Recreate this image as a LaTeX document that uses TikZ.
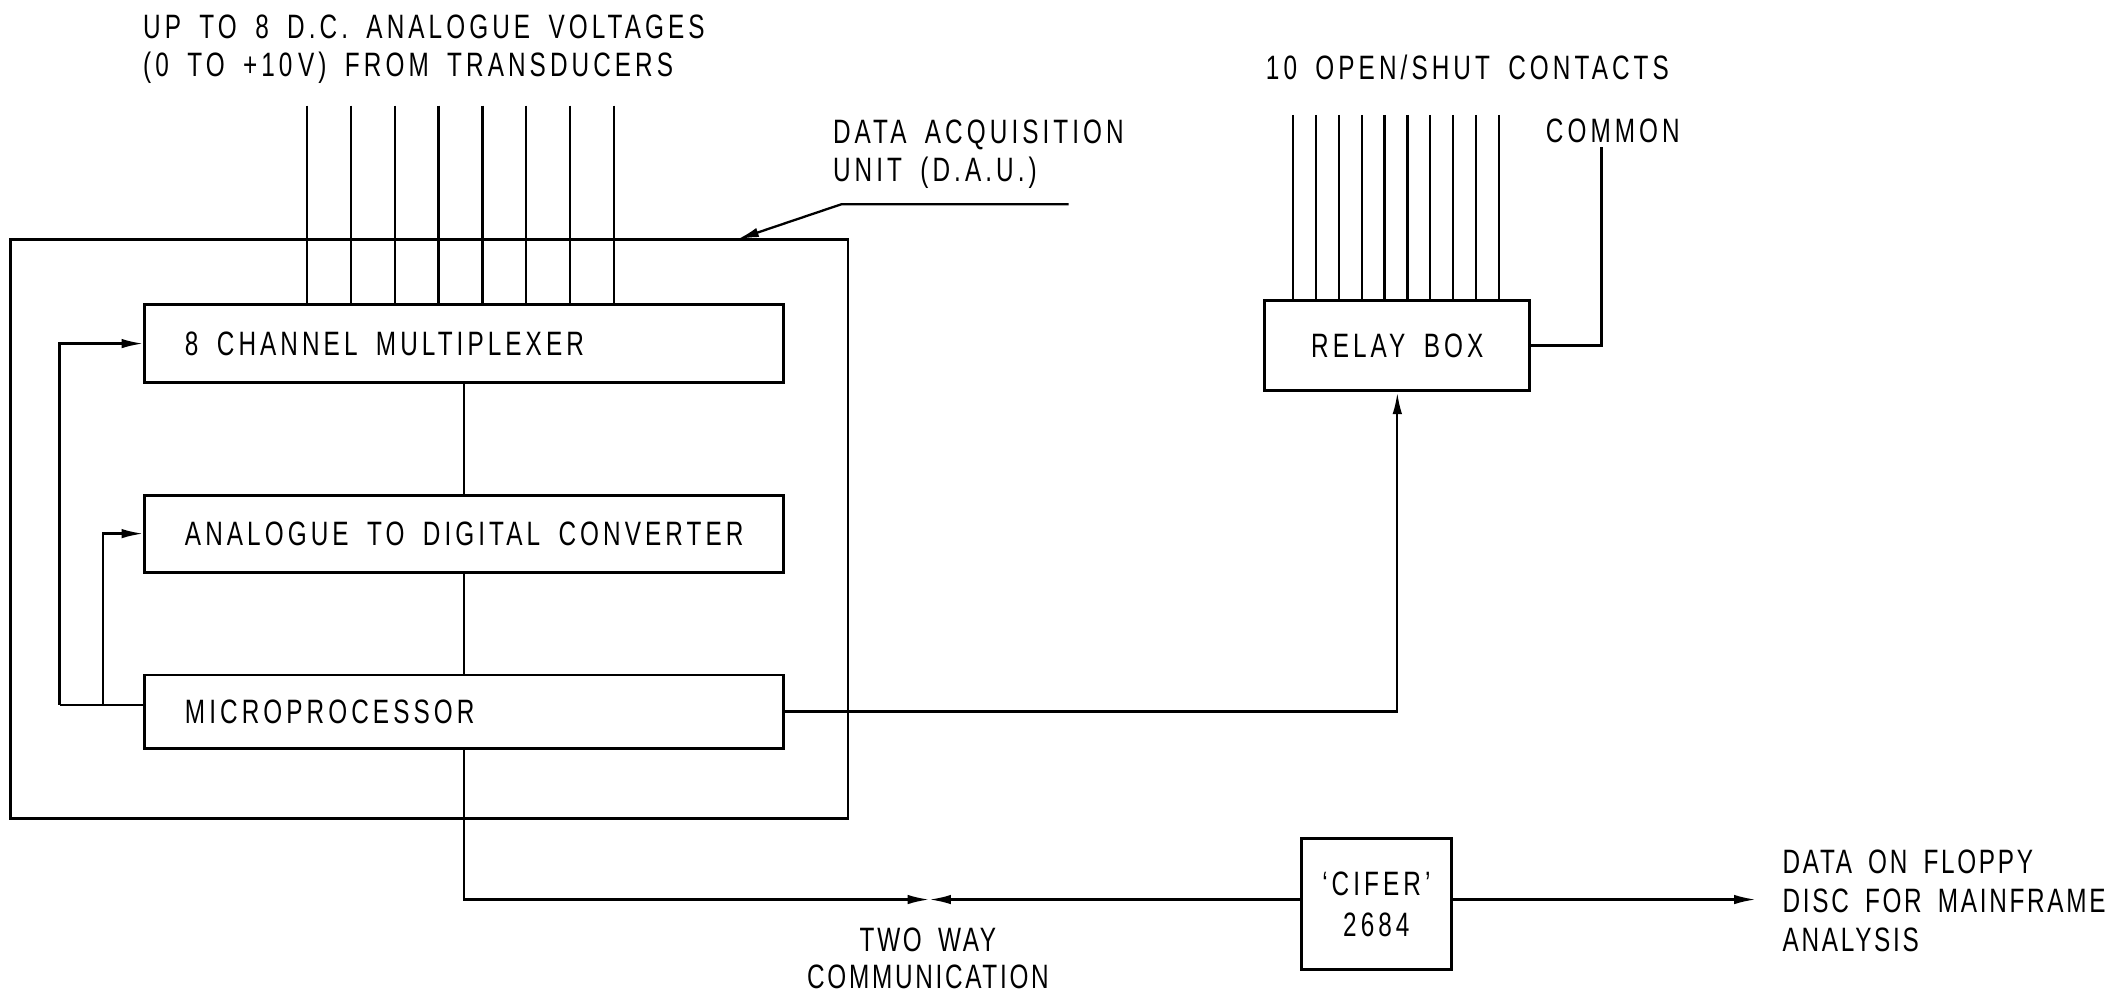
\documentclass[tikz,border=0pt]{standalone}
\usepackage{fontspec}
\setmainfont{Liberation Sans}[FakeStretch=0.72, LetterSpace=12, WordSpace=1.7]
\newfontfamily\tightlettering{Liberation Sans}[FakeStretch=0.72, LetterSpace=8, WordSpace=1.7]
\usetikzlibrary{arrows.meta}
\begin{document}
\begin{tikzpicture}[x=1pt, y=1pt, line width=1.7pt,
  every node/.style={font=\fontsize{25}{29}\selectfont, inner sep=0pt},
  every label/.style={font=\fontsize{25}{29}\selectfont, inner sep=0pt},
  tight/.style={font=\fontsize{25}{29}\tightlettering},
  blk/.style={draw, line width=2.2pt, rectangle},
  unitblk/.style={blk, minimum width=472pt, label={[anchor=west, xshift=30pt]west:#1}},
  arr/.style={-{Latex[length=16pt, width=7pt]}}]
\useasboundingbox[fill=white] (0,0) rectangle (1568,-741);

% Data acquisition unit enclosure and its blocks
\node[draw, line width=2pt, minimum width=619pt, minimum height=428pt] (dau) at (317.5,-391) {};
\node[unitblk={8 CHANNEL MULTIPLEXER}, minimum height=58pt] (mux) at (343,-254) {};
\node[unitblk={ANALOGUE TO DIGITAL CONVERTER}, minimum height=57pt] (adc) at (343,-394.5) {};
\node[unitblk={MICROPROCESSOR}, minimum height=54pt] (mpu) at (343,-526) {};

% Relay box and CIFER
\node[blk, minimum width=196pt, minimum height=67pt] (relay) at (1033,-255.5) {RELAY BOX};
\node[blk, minimum width=111pt, minimum height=97pt, align=center] (cifer) at (1017.5,-668.5) {`CIFER'\\[1pt]2684};

% Labels
\node[anchor=west] (lblin1) at (105,-20) {UP TO 8 D.C. ANALOGUE VOLTAGES};
\node[anchor=west] (lblin2) at (105,-50) {(0 TO +10\,V) FROM TRANSDUCERS};
\node[anchor=west] (lbldau1) at (615,-100) {DATA ACQUISITION};
\node[anchor=west] (lbldau2) at (615,-128) {UNIT (D.A.U.)};
\node[anchor=west] (lblct) at (935,-50) {10 OPEN/SHUT CONTACTS};
\node[anchor=west] (lblcom) at (1142,-97) {COMMON};
\node[tight] (lbltw1) at (686,-695) {TWO WAY};
\node[tight] (lbltw2) at (686,-722) {COMMUNICATION};
\node[tight, anchor=west] (lblout1) at (1317,-637) {DATA ON FLOPPY};
\node[tight, anchor=west] (lblout2) at (1317,-666) {DISC FOR MAINFRAME};
\node[tight, anchor=west] (lblout3) at (1317,-695) {ANALYSIS};

% Analogue inputs into the multiplexer
\foreach \i in {0,...,7} {
  \coordinate (in\i) at ({227+32.4*\i},-78);
  \draw (in\i) -- (in\i |- mux.north);
}
% Open/shut contacts into the relay box
\foreach \i in {0,...,9} {
  \coordinate (ct\i) at ({956+16.9*\i},-85);
  \draw (ct\i) -- (ct\i |- relay.north);
}
\coordinate (com) at (1184,-109);
\draw (com) |- (relay.east);

% Leader to the enclosure
\coordinate (ldr) at (790,-151);
\coordinate (dautip) at (545,-177);
\draw[arr] (ldr) -- (622,-151) -- (dautip);

% Internal data path
\draw (mux.south) -- (adc.north);
\draw (adc.south) -- (mpu.north);

% Control lines from the microprocessor
\coordinate (fbl) at (44,-521);
\coordinate (fbm) at (76,-521);
\draw ([yshift=5pt]mpu.west) -- (fbl);
\draw[arr] (fbl) |- (mux.west);
\draw[arr] (fbm) |- (adc.west);
\draw[arr] (mpu.east) -| (relay.south);

% Two way link to CIFER and output
\coordinate (twc) at (687,-665);
\draw[arr] (mpu.south) |- (twc);
\draw[arr] ([yshift=3.5pt]cifer.west) -- (twc);
\coordinate (outp) at (1298,-665);
\draw[arr] ([yshift=3.5pt]cifer.east) -- (outp);
\end{tikzpicture}
\end{document}
